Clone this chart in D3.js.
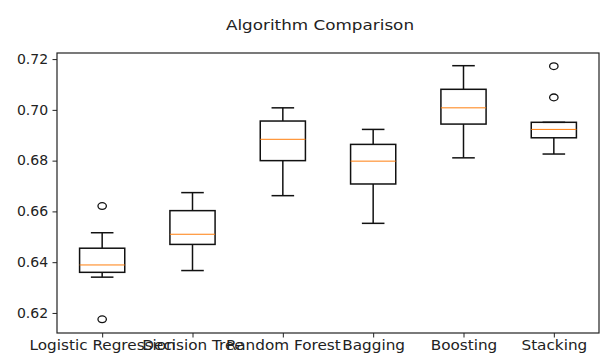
<!DOCTYPE html>
<html>
<head>
<meta charset="utf-8">
<title>Algorithm Comparison</title>
<script src="https://d3js.org/d3.v7.min.js"></script>
<style>
body { margin: 0; background: #fff; }
text { font-family: "DejaVu Sans", sans-serif; fill: #222; }
</style>
</head>
<body>
<div id="chart"></div>
<script>
// box statistics
var names = ["Logistic Regression", "Decision Tree", "Random Forest", "Bagging", "Boosting", "Stacking"];
var whiskerLow  = [0.6341, 0.6367, 0.6662, 0.6553, 0.6811, 0.6826];
var q1          = [0.6360, 0.6470, 0.6800, 0.6708, 0.6944, 0.6890];
var medians     = [0.6389, 0.6510, 0.6884, 0.6798, 0.7008, 0.6923];
var q3          = [0.6455, 0.6603, 0.6956, 0.6864, 0.7081, 0.6951];
var whiskerHigh = [0.6516, 0.6674, 0.7008, 0.6923, 0.7174, 0.6951];
var fliers      = [[0.6621, 0.6175], [], [], [], [], [0.7172, 0.7049]];
var yTicks = [0.62, 0.64, 0.66, 0.68, 0.70, 0.72];

var width = 600, height = 355;
var plotLeft = 57, plotRight = 599, plotTop = 53, plotBottom = 333;

var svg = d3.select("#chart").append("svg")
	.attr("width", width)
	.attr("height", height);

var x = d3.scaleLinear().domain([0.5, 6.5]).range([plotLeft, plotRight]);
var y = d3.scaleLinear().domain([0.6121, 0.7224]).range([plotBottom, plotTop]);
var step = x(2) - x(1);
var boxW = step * 0.5;

// title
svg.append("text")
	.attr("transform", "translate(320,30) scale(1.2,1)")
	.attr("text-anchor", "middle")
	.style("font-size", "14px")
	.text("Algorithm Comparison");

// axes
var yAxis = svg.append("g")
	.attr("transform", "translate(" + plotLeft + ",0)")
	.call(d3.axisLeft(y).tickValues(yTicks).tickFormat(d3.format(".2f")).tickSizeOuter(0).tickSize(4.5).tickPadding(4));
var xAxis = svg.append("g")
	.attr("transform", "translate(0," + plotBottom + ")")
	.call(d3.axisBottom(x).tickValues(d3.range(1, 7)).tickFormat((d, i) => names[i]).tickSizeOuter(0).tickSize(4.5).tickPadding(3));

[yAxis, xAxis].forEach(a => {
	a.select(".domain").remove();
	a.selectAll("line").attr("stroke", "#222").attr("stroke-width", 1);
	a.selectAll("text").style("font-size", "13.5px").attr("fill", "#222");
});
xAxis.selectAll("text").attr("dy", "0.71em").attr("transform", "scale(1.13,1)");
yAxis.selectAll("text").attr("transform", "scale(1.04,1)");

// frame
svg.append("rect")
	.attr("x", plotLeft).attr("y", plotTop)
	.attr("width", plotRight - plotLeft).attr("height", plotBottom - plotTop)
	.attr("fill", "none").attr("stroke", "#222").attr("stroke-width", 1.2);

// boxes
var box = svg.selectAll(".box")
	.data(names)
	.join("g")
	.classed("box", true);

box.append("line")
	.attr("x1", (d, i) => x(i + 1)).attr("x2", (d, i) => x(i + 1))
	.attr("y1", (d, i) => y(whiskerLow[i])).attr("y2", (d, i) => y(q1[i]))
	.attr("stroke", "#111").attr("stroke-width", 1.5);
box.append("line")
	.attr("x1", (d, i) => x(i + 1)).attr("x2", (d, i) => x(i + 1))
	.attr("y1", (d, i) => y(whiskerHigh[i])).attr("y2", (d, i) => y(q3[i]))
	.attr("stroke", "#111").attr("stroke-width", 1.5);
box.append("line")
	.attr("x1", (d, i) => x(i + 1) - boxW / 4).attr("x2", (d, i) => x(i + 1) + boxW / 4)
	.attr("y1", (d, i) => y(whiskerLow[i])).attr("y2", (d, i) => y(whiskerLow[i]))
	.attr("stroke", "#111").attr("stroke-width", 1.5);
box.append("line")
	.attr("x1", (d, i) => x(i + 1) - boxW / 4).attr("x2", (d, i) => x(i + 1) + boxW / 4)
	.attr("y1", (d, i) => y(whiskerHigh[i])).attr("y2", (d, i) => y(whiskerHigh[i]))
	.attr("stroke", "#111").attr("stroke-width", 1.5);
box.append("rect")
	.attr("x", (d, i) => x(i + 1) - boxW / 2)
	.attr("width", boxW)
	.attr("y", (d, i) => y(q3[i]))
	.attr("height", (d, i) => y(q1[i]) - y(q3[i]))
	.attr("fill", "none").attr("stroke", "#111").attr("stroke-width", 1.5);
box.append("line")
	.attr("x1", (d, i) => x(i + 1) - boxW / 2).attr("x2", (d, i) => x(i + 1) + boxW / 2)
	.attr("y1", (d, i) => y(medians[i])).attr("y2", (d, i) => y(medians[i]))
	.attr("stroke", "#ff7f0e").attr("stroke-width", 1);

// outliers
box.selectAll(".flier")
	.data((d, i) => fliers[i].map(v => ({ v: v, i: i })))
	.join("ellipse")
	.classed("flier", true)
	.attr("cx", d => x(d.i + 1))
	.attr("cy", d => y(d.v))
	.attr("rx", 4.2).attr("ry", 3.4)
	.attr("fill", "none").attr("stroke", "#111").attr("stroke-width", 1.3);
</script>
</body>
</html>
